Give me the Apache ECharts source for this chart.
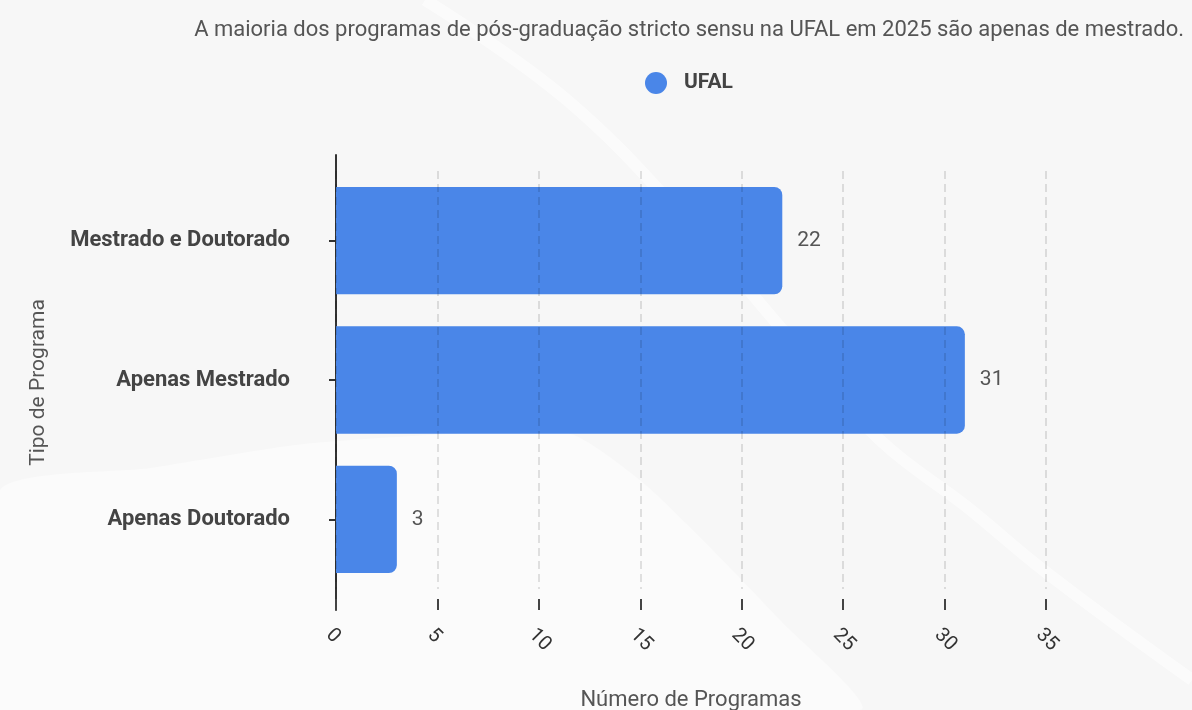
<!DOCTYPE html>
<html>
<head>
<meta charset="utf-8">
<script src="https://cdn.jsdelivr.net/npm/echarts@6/dist/echarts.min.js"></script>
<style>
  html, body { margin: 0; padding: 0; background: #f7f7f7; }
  #chart { width: 1192px; height: 710px; }
</style>
</head>
<body>
<div id="chart"></div>
<script>
const titleText = 'A maioria dos programas de pós-graduação stricto sensu na UFAL em 2025 são apenas de mestrado.'
const seriesName = 'UFAL'
const categories = ['Mestrado e Doutorado', 'Apenas Mestrado', 'Apenas Doutorado']
const values = [22, 31, 3]
const xMin = 0
const xMax = 35
const xStep = 5
const xName = 'Número de Programas'
const yName = 'Tipo de Programa'

const font = 'Roboto, "Noto Sans", sans-serif'

const myChart = echarts.init(document.getElementById('chart'))
myChart.setOption({
  animation: false,
  backgroundColor: '#f7f7f7',
  textStyle: { fontFamily: font },
  // soft decorative background swooshes
  graphic: [
    {
      type: 'polygon',
      silent: true,
      z: -10,
      shape: { points: [[0, 490], [150, 468], [312, 443], [567, 433], [640, 480], [700, 537], [780, 620], [860, 710], [0, 710]], smooth: 0.2 },
      style: { fill: '#ffffff', opacity: 0.45 }
    },
    {
      type: 'polyline',
      silent: true,
      z: -10,
      shape: { points: [[425, 0], [567, 100], [700, 235], [800, 350], [880, 440], [967, 507], [1047, 573], [1192, 680]], smooth: 0.4 },
      style: { stroke: '#ffffff', lineWidth: 12, fill: null, opacity: 0.55 }
    }
  ],
  title: {
    text: titleText,
    right: 3,
    top: 14,
    textStyle: { fontSize: 22, fontWeight: 'normal', color: '#555', fontFamily: font }
  },
  legend: {
    data: [seriesName],
    left: 640,
    top: 67,
    icon: 'circle',
    itemWidth: 22,
    itemHeight: 22,
    textStyle: { fontSize: 21, fontWeight: 'bold', color: '#444', fontFamily: font, padding: [0, 0, 0, 12] }
  },
  grid: [
    { left: 336, right: 146, top: 155, bottom: 100, outerBoundsMode: 'none' },
    { left: 336, right: 146, top: 171, bottom: 121, outerBoundsMode: 'none' }
  ],
  xAxis: [
    {
      gridIndex: 0,
      type: 'value',
      min: xMin,
      max: xMax,
      interval: xStep,
      axisLine: { show: false },
      axisTick: { show: true, inside: true, length: 11, lineStyle: { color: '#444', width: 2 } },
      axisLabel: { rotate: -45, margin: 15, fontSize: 20, color: '#333', align: 'left', verticalAlign: 'top' },
      splitLine: { show: false },
      name: xName,
      nameLocation: 'middle',
      nameGap: 79,
      nameTextStyle: { fontSize: 22, color: '#555' }
    },
    {
      gridIndex: 1,
      type: 'value',
      min: xMin,
      max: xMax,
      interval: xStep,
      z: 3,
      axisLine: { show: false },
      axisTick: { show: false },
      axisLabel: { show: false },
      splitLine: { show: true, lineStyle: { color: 'rgba(0,0,0,0.11)', width: 2, type: [8, 5] } }
    }
  ],
  yAxis: [
    {
      gridIndex: 0,
      type: 'value',
      min: 0,
      max: 1,
      axisLine: { show: true, lineStyle: { color: '#333', width: 2 } },
      axisTick: { show: false },
      axisLabel: { show: false },
      splitLine: { show: false },
      name: yName,
      nameLocation: 'middle',
      nameGap: 287,
      nameTextStyle: { fontSize: 21, color: '#555' }
    },
    {
      gridIndex: 1,
      type: 'category',
      data: categories,
      inverse: true,
      axisLine: { show: false },
      axisTick: { show: true, alignWithLabel: true, length: 7, lineStyle: { color: '#333', width: 2 } },
      axisLabel: { fontSize: 22, fontWeight: 'bold', color: '#444', margin: 46 }
    }
  ],
  series: [
    {
      name: seriesName,
      type: 'bar',
      xAxisIndex: 1,
      yAxisIndex: 1,
      data: values,
      barWidth: '77%',
      itemStyle: { color: '#4a86e8', borderRadius: [0, 8, 8, 0] },
      label: { show: true, position: 'right', distance: 15, fontSize: 21, color: '#555' }
    }
  ]
})
</script>
</body>
</html>
